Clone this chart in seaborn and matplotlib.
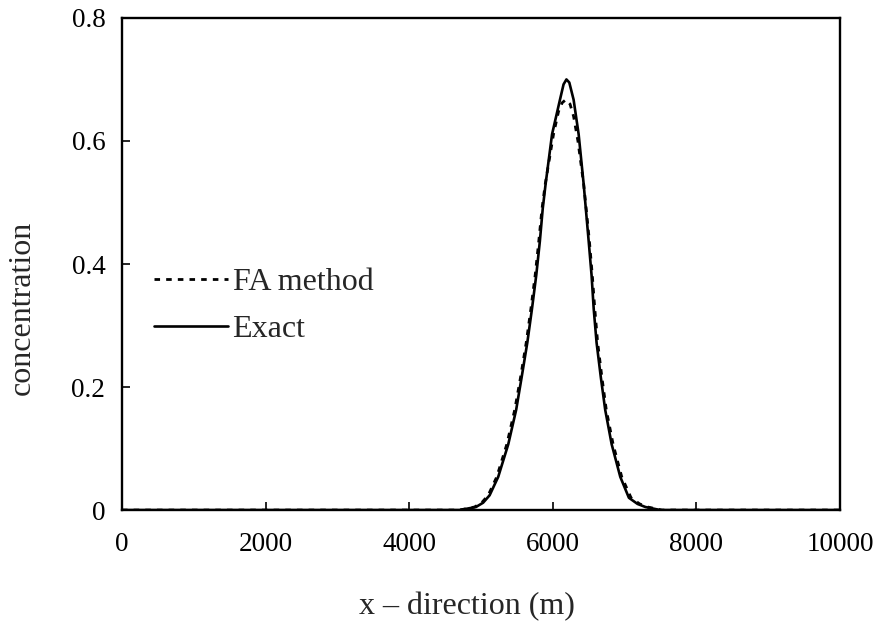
"""Concentration profile: FA method vs exact solution."""

import pandas as pd
import matplotlib
matplotlib.use('Agg')
import matplotlib.pyplot as plt
import seaborn as sns

# values
x_exact = [0, 2000, 4000, 4700, 4930, 5030, 5120, 5240, 5380, 5490, 5565, 5645,
           5710, 5770, 5820, 5860, 5900, 5990, 6100, 6150, 6190, 6230, 6290,
           6360, 6430, 6460, 6500, 6540, 6570, 6610, 6670, 6730, 6820, 6940,
           7060, 7180, 7290, 7500, 8000, 10000]
y_exact = [0, 0, 0, 0, 0.005, 0.012, 0.024, 0.054, 0.107, 0.163, 0.215, 0.272,
           0.327, 0.382, 0.437, 0.49, 0.53, 0.611, 0.667, 0.692, 0.70, 0.695, 0.667,
           0.611, 0.53, 0.49, 0.437, 0.382, 0.327, 0.272, 0.215, 0.163, 0.107, 0.054,
           0.02, 0.01, 0.005, 0, 0, 0]

x_fa = [0, 2000, 4000, 4700, 4910, 5010, 5100, 5220, 5360, 5470, 5550, 5630,
        5695, 5755, 5805, 5850, 5895, 6010, 6080, 6130, 6180, 6240, 6290, 6350,
        6430, 6465, 6510, 6550, 6585, 6625, 6685, 6745, 6840, 6960, 7090, 7210,
        7320, 7520, 8000, 10000]
y_fa = [0, 0, 0, 0, 0.005, 0.012, 0.024, 0.054, 0.107, 0.163, 0.215, 0.272,
        0.327, 0.382, 0.437, 0.49, 0.53, 0.611, 0.648, 0.662, 0.667, 0.66, 0.64,
        0.60, 0.53, 0.49, 0.437, 0.382, 0.327, 0.272, 0.215, 0.163, 0.107, 0.054,
        0.02, 0.01, 0.005, 0, 0, 0]

x_ticks = [0, 2000, 4000, 6000, 8000, 10000]
y_ticks = [0, 0.2, 0.4, 0.6, 0.8]
y_tick_labels = ['0', '0.2', '0.4', '0.6', '0.8']

sns.set_style('white')
plt.rcParams['font.family'] = ['Liberation Serif', 'DejaVu Serif']

fig = plt.figure(figsize=(8.73, 6.4), dpi=100)
ax = fig.add_axes([0.1397, 0.203, 0.8225, 0.769])

fa = pd.DataFrame({'x': x_fa, 'y': y_fa})
exact = pd.DataFrame({'x': x_exact, 'y': y_exact})

sns.lineplot(data=fa, x='x', y='y', ax=ax, color='black', lw=2.0,
             linestyle=(0, (2.0, 2.2)), label='FA method')
sns.lineplot(data=exact, x='x', y='y', ax=ax, color='black', lw=1.9,
             label='Exact')

ax.set_xlim(0, 10000)
ax.set_ylim(0, 0.8)
ax.set_xticks(x_ticks)
ax.set_xticklabels([str(t) for t in x_ticks])
ax.set_yticks(y_ticks)
ax.set_yticklabels(y_tick_labels)
ax.tick_params(direction='in', length=6, width=1.2, labelsize=19.5,
               colors='black', bottom=True, left=True, top=False, right=False)
ax.tick_params(axis='y', pad=12)
ax.tick_params(axis='x', pad=16)

for sp in ax.spines.values():
    sp.set_color('black')
    sp.set_linewidth(1.7)

ax.set_xlabel('x – direction (m)', fontsize=23)
ax.set_ylabel('concentration', fontsize=23)
ax.xaxis.set_label_coords(0.48, -0.167)
ax.yaxis.set_label_coords(-0.118, 0.41)

ax.legend(loc='center left', bbox_to_anchor=(0.045, 0.415), frameon=False,
          fontsize=23, handlelength=2.3, handletextpad=0.15, labelspacing=0.55,
          borderpad=0, borderaxespad=0)

fig.savefig('out.png', dpi=100)
